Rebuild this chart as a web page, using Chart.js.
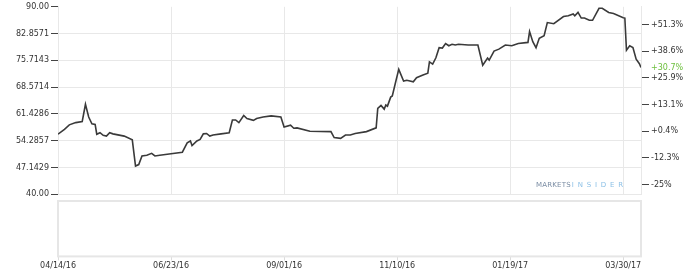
<!DOCTYPE html>
<html>
<head>
<meta charset="utf-8">
<script src="https://cdn.jsdelivr.net/npm/chart.js@4.4.1/dist/chart.umd.min.js"></script>
<style>
  body { margin: 0; background: #fff; }
  #wrap { width: 700px; height: 280px; position: relative; }
  #haut { position: absolute; left: 0; top: 0; width: 700px; height: 201px; }
  #bas { position: absolute; left: 0; top: 197px; width: 700px; height: 83px; }
</style>
</head>
<body>
<div id="wrap">
  <div id="haut"><canvas id="cours"></canvas></div>
  <div id="bas"><canvas id="volume"></canvas></div>
</div>
<script>
// jours depuis le 04/14/16 et cours de cloture
const jours = [0,4,7,11,15,17,19,21,23,24,26,28,30,32,34,41,46,48,50,52,
  55,58,60,63,70,77,80,82,83,86,88,90,92,94,96,101,106,108,110,112,
  115,117,121,123,127,132,138,140,144,146,148,156,169,171,175,178,181,184,191,197,
  198,200,202,203,204,206,207,209,211,214,216,220,222,226,229,230,232,234,236,238,
  240,242,244,246,248,254,260,263,266,267,270,273,277,281,285,291,292,294,296,298,
  301,303,307,313,316,319,320,322,324,326,329,331,335,337,341,344,350,351,352,354,
  356,358,360,361];
const cours = [56.0,57.3,58.5,59.1,59.4,64.0,60.6,58.8,58.6,56.0,56.4,55.7,55.5,56.4,56.1,55.5,54.5,47.5,47.9,50.2,
  50.4,50.9,50.2,50.4,50.8,51.2,53.7,54.2,53.0,54.2,54.6,56.1,56.2,55.5,55.8,56.1,56.4,59.8,59.8,59.1,
  61.0,60.2,59.7,60.2,60.6,60.9,60.6,57.9,58.4,57.6,57.7,56.8,56.7,55.1,54.9,55.8,55.8,56.2,56.7,57.7,
  62.9,63.7,62.7,63.8,63.5,65.9,66.2,69.8,73.3,70.2,70.4,70.0,71.1,71.8,72.3,75.3,74.7,76.4,79.1,79.0,
  80.2,79.6,80.0,79.8,80.0,79.8,79.8,74.4,76.3,75.8,78.2,78.7,79.8,79.6,80.2,80.5,83.4,80.7,79.1,81.6,
  82.3,85.8,85.5,87.4,87.6,88.1,87.6,88.5,87.0,87.0,86.4,86.4,89.6,89.6,88.5,88.2,87.1,87.0,78.4,79.6,
  79.1,76.0,74.8,73.8];

const joursDates = [0, 70, 140, 210, 280, 350];
const etiquettesDates = ['04/14/16', '06/23/16', '09/01/16', '11/10/16', '01/19/17', '03/30/17'];

const ticksPrix = [40, 47.1429, 54.2857, 61.4286, 68.5714, 75.7143, 82.8571, 90];
const etiquettesPrix = ['40.00', '47.1429', '54.2857', '61.4286', '68.5714', '75.7143', '82.8571', '90.00'];

const ticksPct = [-25, -12.3, 0.4, 13.1, 25.9, 38.6, 51.3];
const etiquettesPct = ['-25%', '-12.3%', '+0.4%', '+13.1%', '+25.9%', '+38.6%', '+51.3%'];
const variationFinale = 30.7;

Chart.defaults.font.family = 'DejaVu Sans';
Chart.defaults.font.size = 8;
Chart.defaults.color = '#333';

const GRILLE = '#e8e8e8';

// filigrane en bas a droite du panneau
const filigrane = {
  id: 'filigrane',
  afterDatasetsDraw(chart) {
    const { ctx, chartArea } = chart;
    ctx.save();
    ctx.font = '7px "DejaVu Sans"';
    ctx.textBaseline = 'middle';
    let x = chartArea.right - 105;
    const y = chartArea.bottom - 9;
    for (const c of 'MARKETS') {
      ctx.fillStyle = '#7a8ca3';
      ctx.fillText(c, x, y);
      x += ctx.measureText(c).width + 0.2;
    }
    x += 1;
    for (const c of 'INSIDER') {
      ctx.fillStyle = '#8cc0e6';
      ctx.fillText(c, x, y);
      x += ctx.measureText(c).width + 3.8;
    }
    ctx.restore();
  }
};

new Chart(document.getElementById('cours'), {
  type: 'line',
  data: {
    datasets: [{
      data: jours.map((j, i) => ({ x: j, y: cours[i] })),
      borderColor: '#3a3a3a',
      borderWidth: 1.6,
      pointRadius: 0,
      tension: 0,
      yAxisID: 'y'
    }]
  },
  options: {
    responsive: true,
    maintainAspectRatio: false,
    animation: false,
    layout: { padding: { top: 6, bottom: 4, left: 0, right: 0 } },
    plugins: { legend: { display: false }, tooltip: { enabled: false } },
    scales: {
      x: {
        type: 'linear',
        min: 0,
        max: 361,
        afterBuildTicks: s => { s.ticks = joursDates.map(v => ({ value: v })); },
        ticks: { display: false },
        grid: { color: GRILLE, drawTicks: false },
        border: { display: false }
      },
      y: {
        position: 'left',
        min: 40,
        max: 90,
        afterBuildTicks: s => { s.ticks = ticksPrix.map(v => ({ value: v })); },
        afterFit: s => { s.width = 58; },
        ticks: {
          autoSkip: false,
          padding: 2,
          callback: (v, i) => etiquettesPrix[i]
        },
        grid: {
          color: c => (c.tick && c.tick.value === 90 ? 'rgba(0,0,0,0)' : GRILLE),
          tickColor: '#444',
          tickLength: 7
        },
        border: { display: true, color: GRILLE }
      },
      y2: {
        position: 'right',
        min: -29.6,
        max: 59.9,
        afterBuildTicks: s => { s.ticks = ticksPct.concat([variationFinale]).map(v => ({ value: v })); },
        afterFit: s => { s.width = 59; },
        ticks: {
          autoSkip: false,
          padding: 2,
          callback: (v, i) => (i < ticksPct.length ? etiquettesPct[i] : '+' + variationFinale.toFixed(1) + '%'),
          color: c => (c.index === ticksPct.length ? '#6cbf3c' : '#333')
        },
        grid: {
          drawOnChartArea: false,
          tickColor: c => (c.index === ticksPct.length ? 'rgba(0,0,0,0)' : '#444'),
          tickLength: 8
        },
        border: { display: true, color: GRILLE }
      }
    }
  },
  plugins: [filigrane]
});

// panneau inferieur vide, seulement le cadre et l'axe des dates
const cadre = {
  id: 'cadre',
  beforeDatasetsDraw(chart) {
    const { ctx, chartArea } = chart;
    ctx.save();
    ctx.strokeStyle = '#e6e6e6';
    ctx.lineWidth = 2;
    ctx.strokeRect(chartArea.left, chartArea.top, chartArea.right - chartArea.left, chartArea.bottom - chartArea.top);
    ctx.restore();
  }
};

new Chart(document.getElementById('volume'), {
  type: 'line',
  data: { datasets: [{ data: [] }] },
  options: {
    responsive: true,
    maintainAspectRatio: false,
    animation: false,
    layout: { padding: { top: 4, bottom: 8, left: 58, right: 59 } },
    plugins: { legend: { display: false }, tooltip: { enabled: false } },
    scales: {
      x: {
        type: 'linear',
        min: 0,
        max: 361,
        afterBuildTicks: s => { s.ticks = joursDates.map(v => ({ value: v })); },
        ticks: {
          autoSkip: false,
          maxRotation: 0,
          padding: 1,
          callback: (v, i) => etiquettesDates[i]
        },
        grid: { drawOnChartArea: false, tickColor: '#dcdcdc', tickLength: 4 },
        border: { display: false }
      },
      y: { display: false, min: 0, max: 1 }
    }
  },
  plugins: [cadre]
});
</script>
</body>
</html>
